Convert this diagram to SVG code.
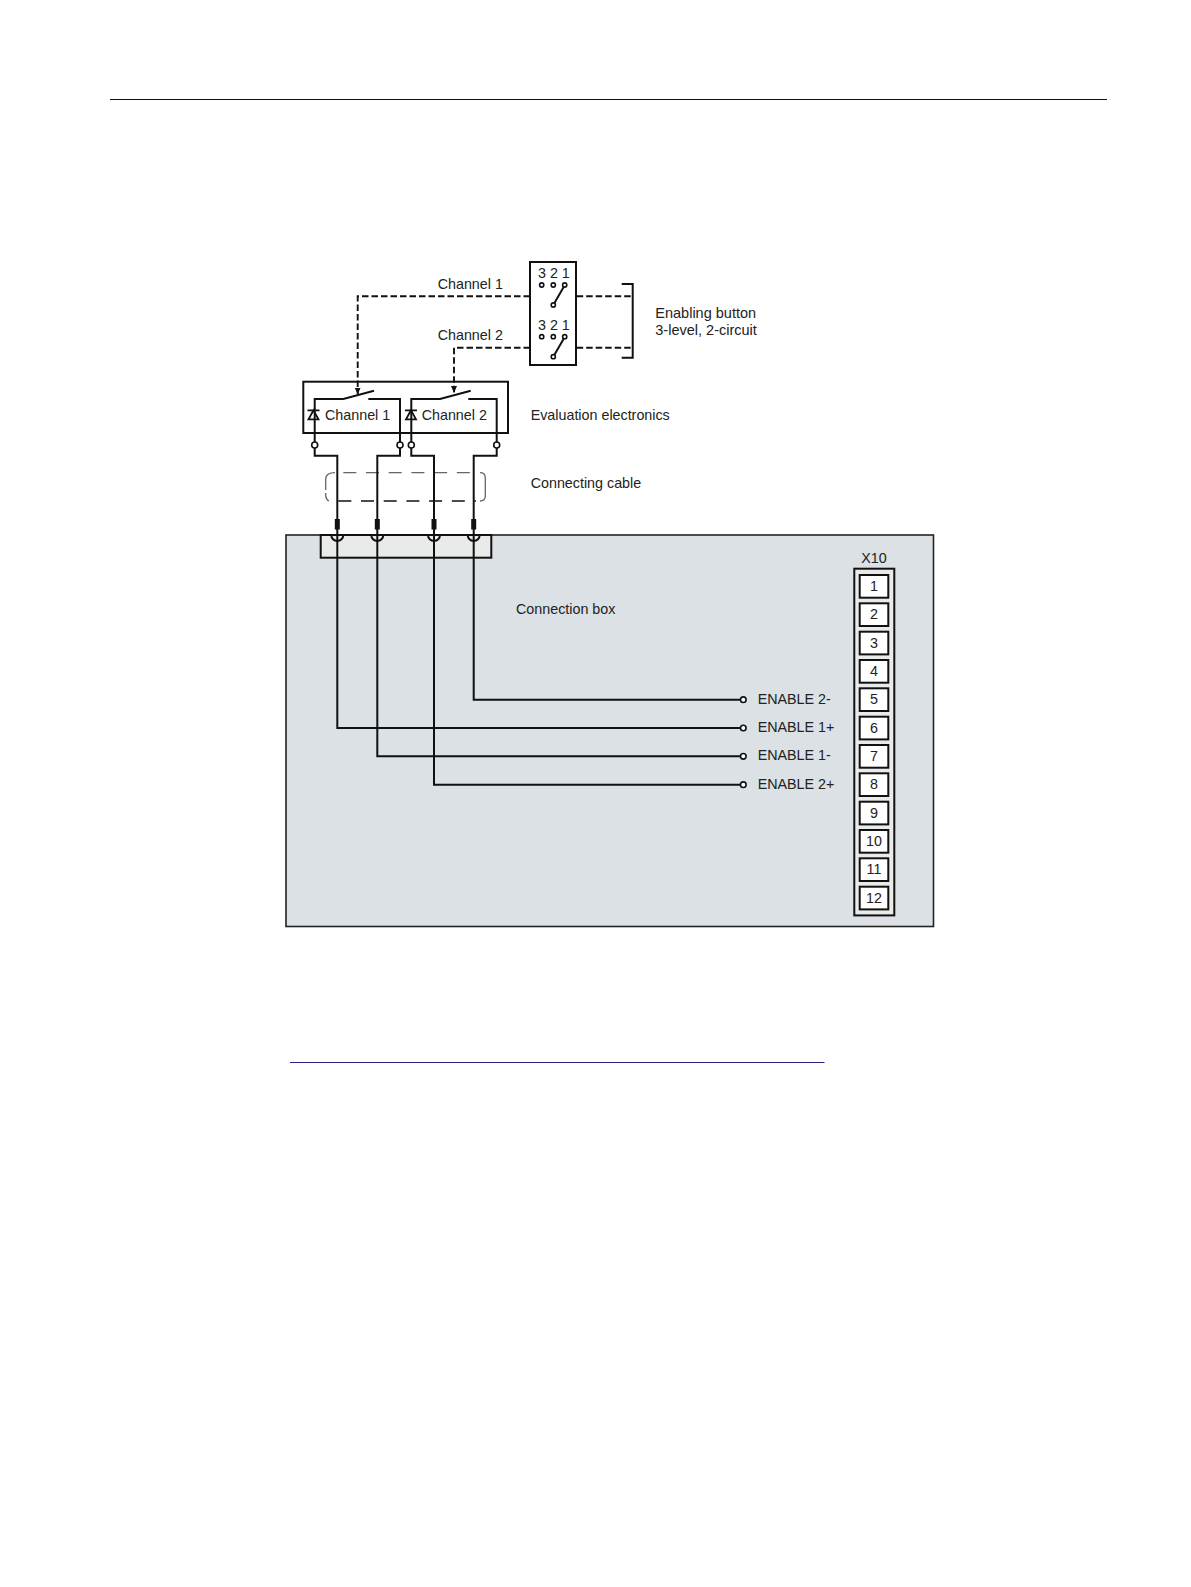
<svg xmlns="http://www.w3.org/2000/svg" width="1191" height="1587" viewBox="0 0 1191 1587">
<defs>
<style>
text{font-family:"Liberation Sans",Arial,sans-serif;font-size:14.3px;fill:#222}
.w{fill:none;stroke:#111;stroke-width:2}
.d{fill:none;stroke:#111;stroke-width:1.9;stroke-dasharray:6.500 3}
.c{fill:#fff;stroke:#111;stroke-width:1.600}
.s{fill:#fff;stroke:#111;stroke-width:1.600}
.b{fill:none;stroke:#111;stroke-width:2}
.cell{fill:#fff;stroke:#111;stroke-width:2}
.m{text-anchor:middle}
.tri{fill:none;stroke:#111;stroke-width:1.800}
</style>
<marker id="arr" markerWidth="8" markerHeight="6" refX="7" refY="3" orient="auto" markerUnits="userSpaceOnUse" viewBox="0 0 8 6"><path d="M0 0L7 3L0 6z" fill="#111"/></marker>
</defs>
<rect width="1191" height="1587" fill="#fff"/>
<path d="M110 99.500H1107" stroke="#111" stroke-width="1"/>
<path d="M290 1062.500H824.500" stroke="#2a2080" stroke-width="1"/>

<g id="connection-box">
<rect x="286" y="535" width="647.500" height="391.500" fill="#dbe1e5" stroke="#222" stroke-width="1.600"/>
<rect x="320.700" y="535" width="170.600" height="22.700" fill="#e9ebea" stroke="#111" stroke-width="2"/>
<text x="516" y="614">Connection box</text>
</g>

<g id="x10">
<text x="874" y="563" class="m">X10</text>
<rect x="854.300" y="568.700" width="40" height="346.700" class="b" style="fill:#e9ebea"/>
<rect class="cell" x="859.700" y="575" width="28.600" height="22.700"/><text class="m" x="874" y="590.800">1</text>
<rect class="cell" x="859.700" y="603.300" width="28.600" height="22.700"/><text class="m" x="874" y="619.100">2</text>
<rect class="cell" x="859.700" y="631.700" width="28.600" height="22.700"/><text class="m" x="874" y="647.500">3</text>
<rect class="cell" x="859.700" y="660" width="28.600" height="22.700"/><text class="m" x="874" y="675.800">4</text>
<rect class="cell" x="859.700" y="688.300" width="28.600" height="22.700"/><text class="m" x="874" y="704.100">5</text>
<rect class="cell" x="859.700" y="716.700" width="28.600" height="22.700"/><text class="m" x="874" y="732.500">6</text>
<rect class="cell" x="859.700" y="745" width="28.600" height="22.700"/><text class="m" x="874" y="760.800">7</text>
<rect class="cell" x="859.700" y="773.300" width="28.600" height="22.700"/><text class="m" x="874" y="789.100">8</text>
<rect class="cell" x="859.700" y="801.700" width="28.600" height="22.700"/><text class="m" x="874" y="817.500">9</text>
<rect class="cell" x="859.700" y="830" width="28.600" height="22.700"/><text class="m" x="874" y="845.800">10</text>
<rect class="cell" x="859.700" y="858.300" width="28.600" height="22.700"/><text class="m" x="874" y="874.100">11</text>
<rect class="cell" x="859.700" y="886.700" width="28.600" height="22.700"/><text class="m" x="874" y="902.500">12</text>
</g>

<g id="enabling-button">
<rect x="530" y="262" width="46" height="103" fill="#fff" stroke="#111" stroke-width="2"/>
<text x="538" y="278">3 2 1</text>
<text x="538" y="329.700">3 2 1</text>
<path class="w" d="M554.300 303.300L563.700 287M554.300 355L563.700 338.700"/>
<circle class="s" cx="541.700" cy="285" r="2.100"/><circle class="s" cx="553.300" cy="285" r="2.100"/><circle class="s" cx="564.700" cy="285" r="2.100"/><circle class="s" cx="553.300" cy="305" r="2.100"/>
<circle class="s" cx="541.700" cy="336.700" r="2.100"/><circle class="s" cx="553.300" cy="336.700" r="2.100"/><circle class="s" cx="564.700" cy="336.700" r="2.100"/><circle class="s" cx="553.300" cy="356.700" r="2.100"/>
<path class="b" d="M621.700 284H632.700V357.700H621.700"/>
<text x="655.300" y="318" style="font-size:14.500px">Enabling button</text>
<text x="655.300" y="334.500" style="font-size:14.500px">3-level, 2-circuit</text>
</g>

<g id="evaluation-electronics">
<rect x="303.300" y="381.700" width="204.700" height="51.300" fill="#fff" stroke="#111" stroke-width="2"/>
<path class="w" d="M314.700 445V399H343.300L374 390.700M368.300 399H400V445M411.300 445V399H440L470.700 390.700M468.300 399H496.700V445"/>
<path class="tri" d="M307.500 410.300H319.500M313.500 410.300L308.500 419.300H318.500Z"/>
<path class="tri" d="M405 410.300H417M411 410.300L406 419.300H416Z"/>
<text x="325" y="420">Channel 1</text>
<text x="421.700" y="420">Channel 2</text>
<text x="530.700" y="419.700">Evaluation electronics</text>
</g>

<g id="connecting-cable">
<path d="M335 472.700Q325.700 472.700 325.700 479V490M325.700 493V496Q326.500 500 329 501" fill="none" stroke="#666" stroke-width="1.300"/>
<path d="M343.300 472.700H478" fill="none" stroke="#666" stroke-width="1.300" stroke-dasharray="13 9.700"/>
<path d="M480 472.700Q485.300 472.700 485.300 478V496Q485.300 501 480 501" fill="none" stroke="#666" stroke-width="1.300"/>
<path d="M338.300 501H476" fill="none" stroke="#111" stroke-width="1.300" stroke-dasharray="13 9.700"/>
<text x="530.700" y="487.500">Connecting cable</text>
</g>

<g id="channel-labels">
<text x="437.700" y="289">Channel 1</text>
<text x="437.700" y="340.300">Channel 2</text>
</g>

<g id="connectors">
<path class="d" d="M530 296.300H357.700V394.500" marker-end="url(#arr)"/>
<path class="d" d="M530 347.700H454V393" marker-end="url(#arr)"/>
<path class="d" d="M576.700 296.300H632.700M576.700 347.700H632.700"/>
<path class="w" d="M314.700 445V455.700H337.300V520M400 445V455.700H377.300V520M411.300 445V455.700H434V520M496.700 445V455.700H473.700V520"/>
<path class="w" d="M473.700 529V699.700H740.500M337.300 529V728H740.500M377.300 529V756.300H740.500M434 529V784.700H740.500"/>
<path d="M337.300 519V529.500M377.300 519V529.500M434 519V529.500M473.700 519V529.500" stroke="#111" stroke-width="5" fill="none"/>
<path class="w" d="M331.300 535A6 6 0 0 0 343.300 535M371.300 535A6 6 0 0 0 383.300 535M428 535A6 6 0 0 0 440 535M467.700 535A6 6 0 0 0 479.700 535"/>
<circle class="c" cx="314.700" cy="445" r="3"/><circle class="c" cx="400" cy="445" r="3"/><circle class="c" cx="411.300" cy="445" r="3"/><circle class="c" cx="496.700" cy="445" r="3"/>
<circle class="c" cx="743.300" cy="699.700" r="2.800"/><circle class="c" cx="743.300" cy="728" r="2.800"/><circle class="c" cx="743.300" cy="756.300" r="2.800"/><circle class="c" cx="743.300" cy="784.700" r="2.800"/>
</g>

<g id="enable-labels">
<text x="757.700" y="703.700">ENABLE 2-</text>
<text x="757.700" y="732">ENABLE 1+</text>
<text x="757.700" y="760.300">ENABLE 1-</text>
<text x="757.700" y="788.600">ENABLE 2+</text>
</g>
</svg>
